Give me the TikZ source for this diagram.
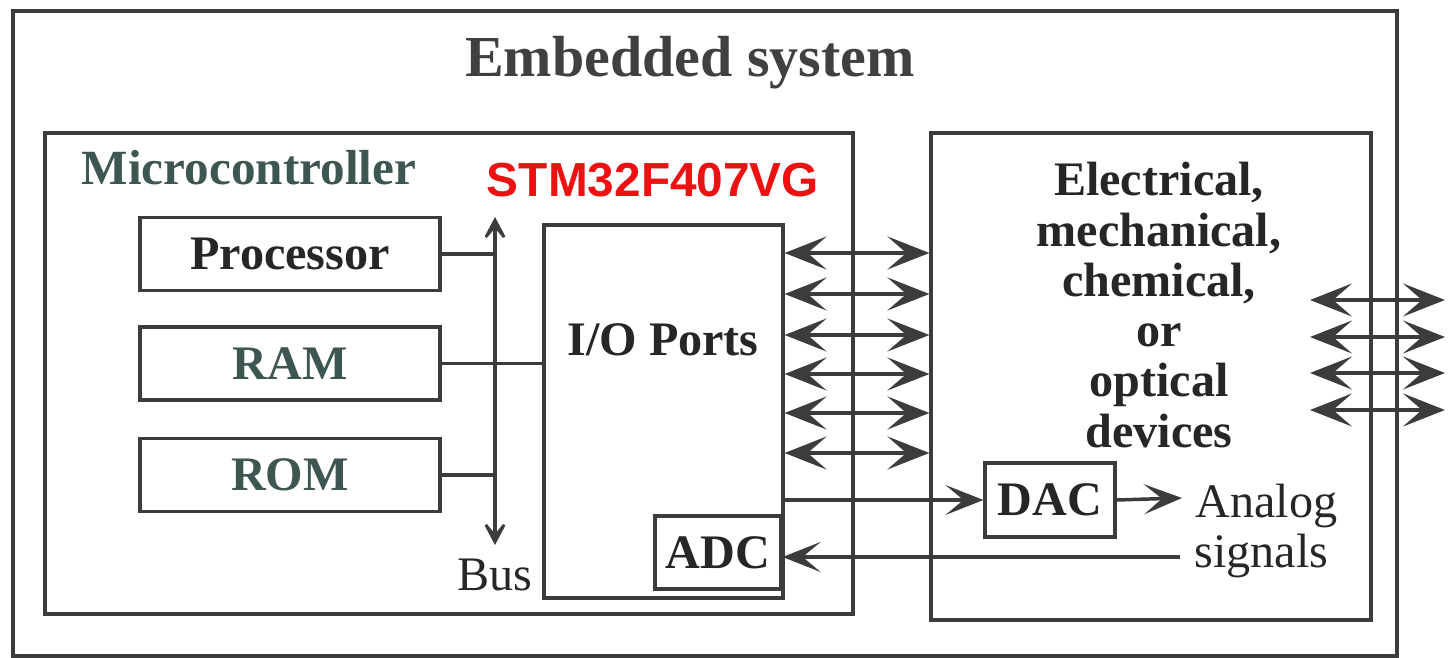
\documentclass[tikz,border=0pt]{standalone}
\usepackage{fontspec}
\setmainfont{Liberation Serif}
\newfontfamily\chipfont{Liberation Sans}
\usepackage{xcolor}
\usepackage{tikz}
\usetikzlibrary{positioning, arrows.meta, calc}
\definecolor{ink}{HTML}{3A3D3C}
\definecolor{slate}{HTML}{3E5651}
\definecolor{chip}{HTML}{EE1111}

\begin{document}
\begin{tikzpicture}[
    every node/.style={font=\fontsize{13.7}{14.3}\selectfont\bfseries, inner sep=0pt},
    color=ink, line width=0.9pt,
    frame/.style={rectangle, draw=ink, line width=0.9pt},
    box/.style={frame, minimum width=3cm, minimum height=0.73cm},
    plain/.style={font=\fontsize{13.7}{14.3}\selectfont, text=black!85},
    dbl/.style={{Stealth[length=4.2mm,width=3.3mm,inset=1.9mm]}-{Stealth[length=4.2mm,width=3.3mm,inset=1.9mm]}, line width=1.1pt},
    busarr/.style={{Stealth[length=3.2mm,width=3.4mm,inset=2.1mm]}-{Stealth[length=3.2mm,width=3.4mm,inset=2.1mm]}, line width=1pt},
    arr/.style={-{Stealth[length=3.8mm,width=3mm,inset=1.8mm]}, line width=1pt}]
  \useasboundingbox (0,0) rectangle (14.54,6.58);

  % frames
  \node[frame, minimum width=13.84cm, minimum height=6.45cm] (es) at (7.05,3.245) {};
  \node[font=\fontsize{16.5}{18}\selectfont\bfseries, text=black!75] (title) at (6.9,5.95) {Embedded system};
  \node[frame, minimum width=8.08cm, minimum height=4.81cm] (mc) at (4.49,2.845) {};
  \node[text=slate, font=\fontsize{14}{15}\selectfont\bfseries] (mclbl) at (2.49,4.90) {Microcontroller};
  \node[text=chip, font=\fontsize{13.6}{15}\selectfont\chipfont\bfseries] (stm) at (6.53,4.78) {STM32F407VG};
  \node[frame, minimum width=4.40cm, minimum height=4.87cm] (dev) at (11.51,2.815) {};
  \node[align=center, text=black!85] (devtxt) at (11.59,3.53)
    {Electrical,\\mechanical,\\chemical,\\or\\optical\\devices};

  % memory and processor
  \node[box, text=black!85] (proc) at (2.90,4.04) {Processor};
  \node[box, text=slate] (ram) at (2.90,2.945) {RAM};
  \node[box, text=slate] (rom) at (2.90,1.83) {ROM};

  % bus
  \coordinate (bt) at (4.95,4.41);
  \coordinate (bb) at (4.95,1.13);
  \draw[busarr] (bb) -- (bt);
  \node[plain, below=0.12cm of bb] (bus) {Bus};

  % ports
  \node[frame, minimum width=2.39cm, minimum height=3.73cm] (io) at (6.635,2.465) {};
  \node[text=black!85] (iolbl) at (6.63,3.18) {I/O Ports};
  \node[frame, minimum width=1.26cm, minimum height=0.73cm, text=black!85] (adc) at (7.18,1.055) {ADC};
  \node[frame, minimum width=1.30cm, minimum height=0.74cm, text=black!85] (dac) at (10.50,1.58) {DAC};

  \draw (proc.east) -- (proc.east -| bt);
  \draw (ram.east) -- (io.west |- ram.east);
  \draw (rom.east) -- (rom.east -| bt);

  \foreach \y in {4.05,3.64,3.23,2.84,2.45,2.05}
    \draw[dbl] (io.east |- 0,\y) -- (dev.west |- 0,\y);

  % analog side
  \coordinate (sigout) at (11.82,1.60);
  \coordinate (sigin) at (11.80,1.01);
  \node[plain, anchor=base west] (ana) at (11.94,1.40) {Analog};
  \node[plain, anchor=base west] (sig) at (11.93,0.90) {signals};
  \draw[arr] (io.east |- dac.west) -- (dac.west);
  \draw[arr] (dac.east) -- (sigout);
  \draw[arr] (sigin) -- (adc.east |- sigin);

  % outside world
  \foreach \y [count=\i] in {3.58,3.21,2.85,2.48} {
    \coordinate (rl\i) at (13.10,\y);
    \coordinate (rr\i) at (14.45,\y);
    \draw[dbl] (rl\i) -- (rr\i);
  }
\end{tikzpicture}
\end{document}
